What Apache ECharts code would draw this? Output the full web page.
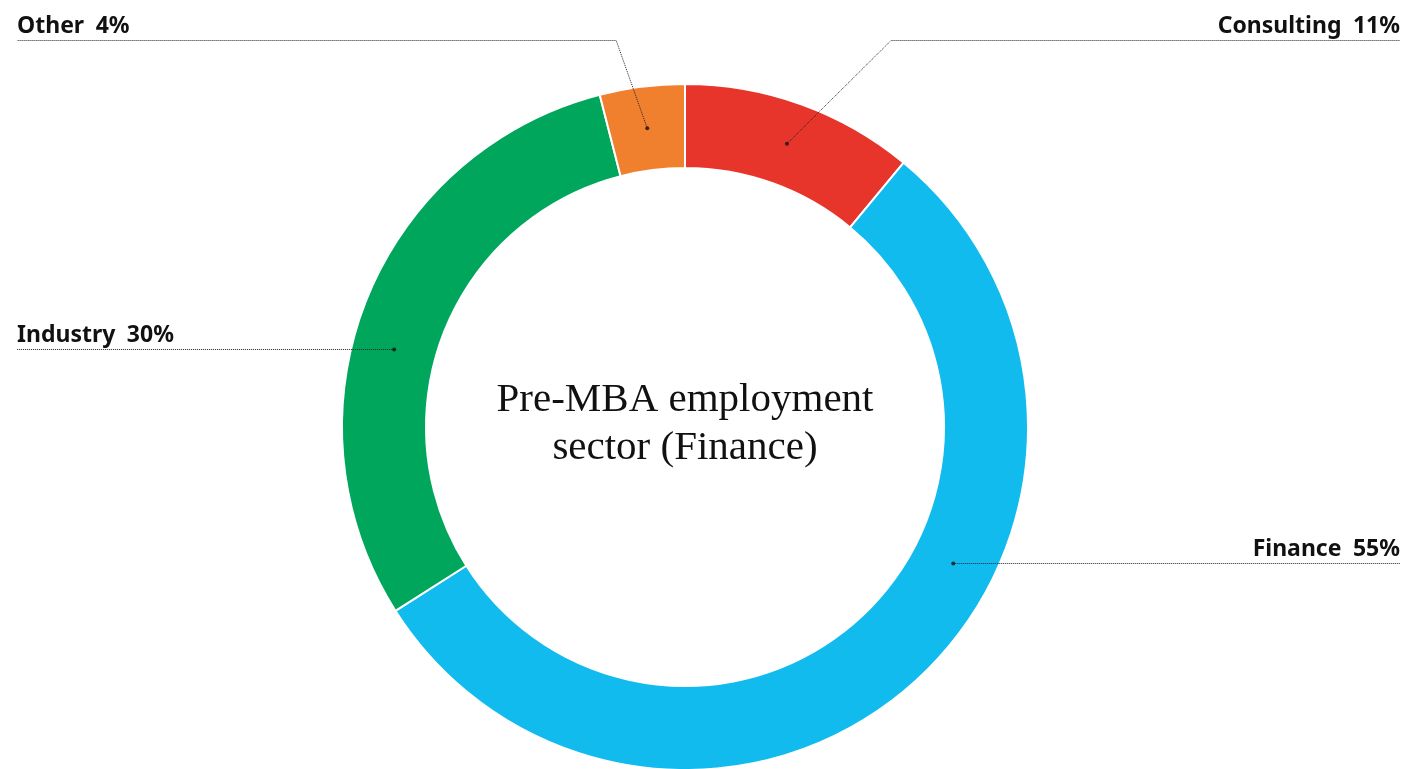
<!DOCTYPE html>
<html>
<head>
<meta charset="utf-8">
<script src="https://cdn.jsdelivr.net/npm/echarts@6/dist/echarts.min.js"></script>
<style>
html, body { margin: 0; padding: 0; background: #fff; }
#main { width: 1405px; height: 769px; }
</style>
</head>
<body>
<div id="main"></div>
<script>
// data
const sectors = ['Consulting', 'Finance', 'Industry', 'Other']
const shares = [11, 55, 30, 4]
const sectorColors = ['#e8352b', '#12bbee', '#00a65b', '#f07f2e']
const centerTitle = 'Pre-MBA employment\nsector (Finance)'

// layout
const cx = 685
const cy = 427
const rIn = 259
const rOut = 343
const rMid = (rIn + rOut) / 2
const edgeLeft = 17
const edgeRight = 1400
const lineY = [40.5, 563.5, 349.5, 40.5]

const total = shares.reduce((a, b) => a + b, 0)
let acc = 0
const anchors = shares.map((v, i) => {
  const mid = (acc + v / 2) / total * 360
  acc += v
  const rad = mid * Math.PI / 180
  const left = Math.sin(rad) < 0
  const dy = lineY[i] - cy
  let ang = mid
  let side = false
  if (lineY[i] > cy - rOut && Math.abs(dy) < rMid) {
    const dx = Math.sqrt(rMid * rMid - dy * dy) * (left ? -1 : 1)
    ang = Math.atan2(dx, -dy) * 180 / Math.PI
    if (ang < 0) ang += 360
    side = true
  }
  const a = ang * Math.PI / 180
  return {
    ang: ang,
    side: side,
    left: left,
    x: cx + rMid * Math.sin(a),
    y: cy - rMid * Math.cos(a)
  }
})

const pieData = sectors.map((n, i) => ({
  name: n,
  value: shares[i],
  itemStyle: { color: sectorColors[i] }
}))

const chart = echarts.init(document.getElementById('main'))
chart.setOption({
  animation: false,
  title: {
    text: centerTitle,
    left: cx - 5,
    top: 371,
    textAlign: 'center',
    textStyle: {
      fontFamily: 'Liberation Serif',
      fontWeight: 'normal',
      fontSize: 41,
      lineHeight: 48,
      color: '#111'
    }
  },
  polar: { center: [cx, cy], radius: rOut },
  angleAxis: { type: 'value', min: 0, max: 360, startAngle: 90, clockwise: true, show: false },
  radiusAxis: { type: 'value', min: 0, max: rOut, show: false },
  series: [
    {
      type: 'pie',
      center: [cx, cy],
      radius: [rIn, rOut],
      startAngle: 90,
      clockwise: true,
      z: 2,
      itemStyle: { borderColor: '#fff', borderWidth: 2 },
      label: { show: false },
      labelLine: { show: false },
      data: pieData
    },
    {
      // transparent copy on top that carries the labels and leader lines
      type: 'pie',
      center: [cx, cy],
      radius: [rIn, rOut],
      startAngle: 90,
      clockwise: true,
      z: 5,
      silent: true,
      avoidLabelOverlap: false,
      itemStyle: { color: 'rgba(0,0,0,0)', borderWidth: 0 },
      label: {
        show: true,
        position: 'outside',
        formatter: '{b}\u2002{c}%',
        fontFamily: 'Noto Sans',
        fontWeight: 'bold',
        fontSize: 23,
        color: '#111'
      },
      labelLine: {
        show: true,
        lineStyle: { type: 'dotted', color: '#222', width: 1 }
      },
      labelLayout: function (params) {
        const i = params.dataIndex
        const p = anchors[i]
        const y = lineY[i]
        const ex = p.left ? edgeLeft : edgeRight
        let bend
        if (p.side) {
          bend = [p.x, y]
        } else {
          const t = Math.tan(p.ang * Math.PI / 180) * 2.8
          bend = [p.x + (p.y - y) * t, y]
        }
        return {
          x: ex,
          y: y - 2.5,
          align: p.left ? 'left' : 'right',
          verticalAlign: 'bottom',
          labelLinePoints: [[p.x, p.y], bend, [ex, y]]
        }
      },
      data: pieData.map(d => ({ name: d.name, value: d.value }))
    },
    {
      type: 'scatter',
      coordinateSystem: 'polar',
      symbolSize: 4,
      z: 10,
      silent: true,
      itemStyle: { color: '#111' },
      data: anchors.map(p => [rMid, p.ang])
    }
  ]
})
</script>
</body>
</html>
